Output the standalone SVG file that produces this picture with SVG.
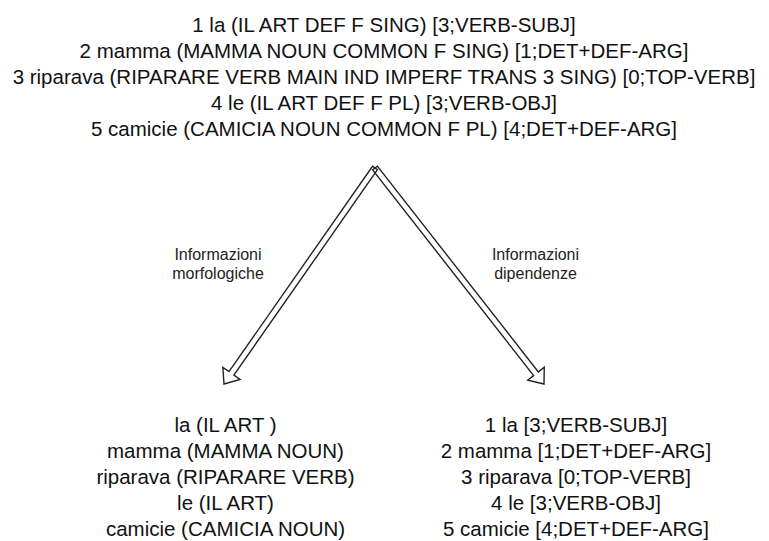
<svg xmlns="http://www.w3.org/2000/svg" width="769" height="541" viewBox="0 0 769 541">
  <style>
    .t { font-family: "Liberation Sans", Arial, sans-serif; font-size: 20.5px; fill: #111; text-anchor: middle; }
    .lbl { font-family: "Liberation Sans", Arial, sans-serif; font-size: 16px; fill: #222; text-anchor: middle; }
    .arrow { fill: none; stroke: #222; stroke-width: 1.4; stroke-linejoin: miter; }
  </style>
  <rect width="769" height="541" fill="#fff"/>

  <!-- full analysis of the sentence -->
  <g id="analysis-full">
    <text class="t" x="384" y="32">1 la (IL ART DEF F SING) [3;VERB-SUBJ]</text>
    <text class="t" x="384" y="58">2 mamma (MAMMA NOUN COMMON F SING) [1;DET+DEF-ARG]</text>
    <text class="t" x="384" y="84">3 riparava (RIPARARE VERB MAIN IND IMPERF TRANS 3 SING) [0;TOP-VERB]</text>
    <text class="t" x="384" y="110">4 le (IL ART DEF F PL) [3;VERB-OBJ]</text>
    <text class="t" x="384" y="136">5 camicie (CAMICIA NOUN COMMON F PL) [4;DET+DEF-ARG]</text>
  </g>

  <!-- two hollow block arrows leaving a common apex -->
  <g id="connectors">
    <polygon class="arrow" points="377.46,169.72 233.91,375.06 240.05,379.36 224,384 222.84,367.33 228.99,371.63 372.54,166.28"/>
    <polygon class="arrow" points="377.36,166.15 538.35,371.91 544.26,367.29 544,384 527.72,380.23 533.63,375.61 372.64,169.85"/>
  </g>

  <g id="label-morph">
    <text class="lbl" x="218" y="260">Informazioni</text>
    <text class="lbl" x="218" y="279">morfologiche</text>
  </g>
  <g id="label-dep">
    <text class="lbl" x="535.5" y="260">Informazioni</text>
    <text class="lbl" x="535.5" y="279">dipendenze</text>
  </g>

  <!-- morphological information -->
  <g id="analysis-morph">
    <text class="t" x="225.5" y="432">la (IL ART )</text>
    <text class="t" x="225.5" y="458">mamma (MAMMA NOUN)</text>
    <text class="t" x="225.5" y="484">riparava (RIPARARE VERB)</text>
    <text class="t" x="225.5" y="510">le (IL ART)</text>
    <text class="t" x="225.5" y="536">camicie (CAMICIA NOUN)</text>
  </g>

  <!-- dependency information -->
  <g id="analysis-dep">
    <text class="t" x="576" y="432">1 la [3;VERB-SUBJ]</text>
    <text class="t" x="576" y="458">2 mamma [1;DET+DEF-ARG]</text>
    <text class="t" x="576" y="484">3 riparava [0;TOP-VERB]</text>
    <text class="t" x="576" y="510">4 le [3;VERB-OBJ]</text>
    <text class="t" x="576" y="536">5 camicie [4;DET+DEF-ARG]</text>
  </g>
</svg>
